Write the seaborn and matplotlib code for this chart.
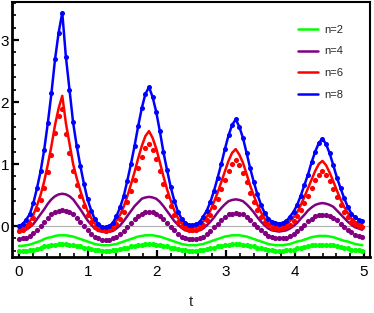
import numpy as np
import matplotlib
matplotlib.use("Agg")
import matplotlib.pyplot as plt
import seaborn as sns
from matplotlib.ticker import MultipleLocator
from matplotlib.lines import Line2D

# sample times (24 samples per period, period = 2*pi/5)
t = np.arange(96) * np.pi / 60

# n=8 (blue, line through the dots)
blue = [0.00, 0.03, 0.10, 0.19, 0.37, 0.61, 0.88, 1.23, 1.66, 2.14, 2.69, 3.12, 3.44, 2.73, 2.20, 1.67, 1.29, 0.97, 0.68, 0.43, 0.25, 0.11, 0.03, -0.01,
        -0.02, 0.00, 0.05, 0.16, 0.30, 0.48, 0.73, 1.00, 1.29, 1.61, 1.90, 2.13, 2.24, 2.08, 1.84, 1.53, 1.19, 0.90, 0.63, 0.41, 0.23, 0.12, 0.05, 0.02,
        0.01, 0.03, 0.06, 0.15, 0.25, 0.39, 0.57, 0.78, 1.00, 1.24, 1.46, 1.63, 1.72, 1.60, 1.42, 1.18, 0.93, 0.71, 0.51, 0.34, 0.21, 0.12, 0.07, 0.05,
        0.04, 0.05, 0.08, 0.15, 0.23, 0.34, 0.49, 0.66, 0.83, 1.03, 1.20, 1.34, 1.41, 1.32, 1.17, 0.98, 0.78, 0.61, 0.45, 0.31, 0.20, 0.14, 0.10, 0.08]

# n=6 (red)
red_line = [-0.05, -0.03, 0.01, 0.07, 0.18, 0.33, 0.50, 0.72, 0.99, 1.29, 1.63, 1.90, 2.10, 1.66, 1.33, 1.00, 0.77, 0.57, 0.39, 0.24, 0.13, 0.04, -0.01, -0.03,
            -0.04, -0.02, 0.01, 0.09, 0.18, 0.31, 0.48, 0.67, 0.87, 1.09, 1.29, 1.45, 1.53, 1.42, 1.25, 1.03, 0.80, 0.59, 0.41, 0.25, 0.13, 0.05, 0.00, -0.02,
            -0.03, -0.02, 0.01, 0.07, 0.15, 0.25, 0.39, 0.54, 0.71, 0.88, 1.05, 1.18, 1.24, 1.15, 1.02, 0.84, 0.65, 0.49, 0.34, 0.22, 0.12, 0.05, 0.02, 0.00,
            -0.01, 0.00, 0.02, 0.08, 0.14, 0.22, 0.34, 0.47, 0.61, 0.75, 0.89, 1.00, 1.05, 0.98, 0.86, 0.72, 0.57, 0.43, 0.31, 0.21, 0.12, 0.07, 0.04, 0.03]
red_dots = [-0.08, -0.06, -0.02, 0.03, 0.13, 0.27, 0.42, 0.62, 0.87, 1.14, 1.50, 1.78, 1.88, 1.48, 1.18, 0.88, 0.66, 0.48, 0.32, 0.18, 0.07, -0.01, -0.05, -0.07,
            -0.08, -0.07, -0.04, 0.03, 0.12, 0.23, 0.39, 0.56, 0.74, 0.94, 1.12, 1.26, 1.33, 1.23, 1.08, 0.88, 0.67, 0.49, 0.32, 0.18, 0.07, 0.00, -0.04, -0.06,
            -0.07, -0.06, -0.04, 0.02, 0.09, 0.18, 0.30, 0.44, 0.59, 0.74, 0.89, 1.00, 1.06, 0.98, 0.86, 0.71, 0.54, 0.39, 0.26, 0.15, 0.06, 0.01, -0.03, -0.04,
            -0.05, -0.04, -0.02, 0.02, 0.08, 0.16, 0.26, 0.37, 0.49, 0.62, 0.74, 0.83, 0.88, 0.82, 0.72, 0.59, 0.46, 0.34, 0.23, 0.14, 0.07, 0.03, 0.00, -0.02]

# n=4 (purple)
purple_line = [-0.08, -0.07, -0.06, -0.02, 0.03, 0.11, 0.19, 0.27, 0.36, 0.43, 0.48, 0.51, 0.52, 0.51, 0.48, 0.43, 0.35, 0.27, 0.18, 0.09, 0.02, -0.04, -0.08, -0.09,
               -0.10, -0.09, -0.08, -0.04, 0.01, 0.08, 0.16, 0.24, 0.32, 0.38, 0.44, 0.46, 0.47, 0.46, 0.44, 0.39, 0.32, 0.24, 0.16, 0.08, 0.02, -0.03, -0.07, -0.08,
               -0.09, -0.08, -0.07, -0.04, 0.01, 0.07, 0.14, 0.22, 0.29, 0.35, 0.40, 0.42, 0.43, 0.42, 0.40, 0.35, 0.29, 0.22, 0.14, 0.07, 0.01, -0.04, -0.07, -0.08,
               -0.09, -0.08, -0.07, -0.04, 0.00, 0.05, 0.12, 0.18, 0.25, 0.30, 0.34, 0.36, 0.37, 0.36, 0.34, 0.31, 0.25, 0.19, 0.13, 0.07, 0.02, -0.02, -0.04, -0.06]
purple_dots = [-0.21, -0.20, -0.19, -0.16, -0.12, -0.06, 0.00, 0.07, 0.13, 0.19, 0.23, 0.25, 0.26, 0.25, 0.23, 0.19, 0.13, 0.06, 0.00, -0.07, -0.13, -0.17, -0.20, -0.22,
               -0.22, -0.22, -0.20, -0.18, -0.13, -0.08, -0.02, 0.05, 0.11, 0.16, 0.20, 0.22, 0.23, 0.22, 0.20, 0.16, 0.11, 0.05, -0.01, -0.07, -0.13, -0.17, -0.19, -0.21,
               -0.21, -0.21, -0.19, -0.17, -0.13, -0.08, -0.02, 0.04, 0.10, 0.15, 0.19, 0.20, 0.21, 0.20, 0.19, 0.15, 0.10, 0.04, -0.02, -0.07, -0.12, -0.16, -0.18, -0.20,
               -0.20, -0.20, -0.19, -0.16, -0.13, -0.08, -0.03, 0.02, 0.08, 0.12, 0.16, 0.17, 0.18, 0.17, 0.16, 0.13, 0.09, 0.04, -0.01, -0.06, -0.10, -0.14, -0.16, -0.17]

# n=2 (green)
green_line = [-0.32, -0.32, -0.31, -0.30, -0.28, -0.26, -0.24, -0.21, -0.19, -0.18, -0.16, -0.15, -0.15, -0.15, -0.16, -0.17, -0.19, -0.21, -0.23, -0.25, -0.27, -0.29, -0.30, -0.31,
              -0.31, -0.31, -0.30, -0.29, -0.27, -0.25, -0.23, -0.21, -0.19, -0.17, -0.16, -0.15, -0.15, -0.15, -0.16, -0.17, -0.19, -0.21, -0.23, -0.25, -0.27, -0.29, -0.30, -0.31,
              -0.31, -0.31, -0.30, -0.29, -0.27, -0.25, -0.23, -0.21, -0.19, -0.17, -0.16, -0.15, -0.15, -0.15, -0.16, -0.17, -0.19, -0.21, -0.23, -0.25, -0.27, -0.29, -0.30, -0.31,
              -0.31, -0.31, -0.30, -0.29, -0.27, -0.25, -0.24, -0.22, -0.20, -0.18, -0.17, -0.16, -0.16, -0.16, -0.17, -0.18, -0.20, -0.22, -0.24, -0.25, -0.27, -0.29, -0.30, -0.31]
green_dots = [-0.41, -0.41, -0.40, -0.39, -0.38, -0.37, -0.35, -0.33, -0.32, -0.31, -0.30, -0.29, -0.29, -0.29, -0.30, -0.31, -0.32, -0.33, -0.35, -0.36, -0.37, -0.38, -0.39, -0.40,
              -0.40, -0.40, -0.39, -0.38, -0.37, -0.36, -0.35, -0.33, -0.32, -0.31, -0.30, -0.29, -0.29, -0.29, -0.30, -0.31, -0.32, -0.33, -0.35, -0.36, -0.37, -0.38, -0.39, -0.40,
              -0.40, -0.40, -0.39, -0.38, -0.37, -0.36, -0.35, -0.33, -0.32, -0.31, -0.30, -0.29, -0.29, -0.29, -0.30, -0.31, -0.32, -0.33, -0.35, -0.36, -0.37, -0.38, -0.39, -0.40,
              -0.40, -0.40, -0.39, -0.39, -0.38, -0.36, -0.35, -0.34, -0.33, -0.31, -0.31, -0.30, -0.30, -0.30, -0.31, -0.31, -0.33, -0.34, -0.35, -0.36, -0.38, -0.39, -0.39, -0.40]

labels = ["n=2", "n=4", "n=6", "n=8"]
colors = ["#00ff00", "#800080", "#ff0000", "#0000ff"]

sns.set_style("white")
plt.rcParams['font.family'] = ['Liberation Sans', 'DejaVu Sans']

fig = plt.figure(figsize=(3.74, 3.13), dpi=100)
ax = fig.add_axes([12 / 374, 1 - 257 / 313, 358 / 374, 255 / 313])

ax.axhline(0, color="#b0b0b0", lw=0.8, zorder=0)

series = [(green_dots, green_line), (purple_dots, purple_line), (red_dots, red_line)]
for (dots, line), color in zip(series, colors[:3]):
    sns.scatterplot(x=t, y=dots, color=color, s=14, linewidth=0, ax=ax, zorder=3)
    sns.lineplot(x=t, y=line, color=color, lw=1.8, ax=ax, zorder=2)

sns.lineplot(x=t, y=blue, color=colors[3], lw=1.8, marker="o", markersize=3.6,
             markeredgewidth=0, ax=ax, zorder=4)

ax.set_xlim(-0.1, 5.087)
ax.set_ylim(-0.5, 3.613)
ax.xaxis.set_major_locator(MultipleLocator(1))
ax.xaxis.set_minor_locator(MultipleLocator(0.2))
ax.yaxis.set_major_locator(MultipleLocator(1))
ax.yaxis.set_minor_locator(MultipleLocator(0.2))
ax.tick_params(which="both", direction="in", colors="black", top=False, right=False,
               bottom=True, left=True)
ax.tick_params(which="major", length=5, width=1.6, labelsize=11)
ax.tick_params(which="minor", length=3, width=1.2)
ax.tick_params(axis="x", which="major", pad=6)
ax.tick_params(axis="y", which="major", pad=2)

for side, sp in ax.spines.items():
    sp.set_color("black")
    sp.set_linewidth(2.0 if side in ("left", "bottom") else 1.5)

ax.set_xlabel("t", fontsize=11, labelpad=11)
ax.set_ylabel("")

handles = [Line2D([], [], color=c, lw=1.8) for c in colors]
ax.legend(handles, labels, loc="upper left", bbox_to_anchor=(0.787, 0.928),
          frameon=False, fontsize=8, handlelength=1.8, handletextpad=0.55,
          labelspacing=1.05, borderaxespad=0)

fig.savefig("out.png", dpi=100)
